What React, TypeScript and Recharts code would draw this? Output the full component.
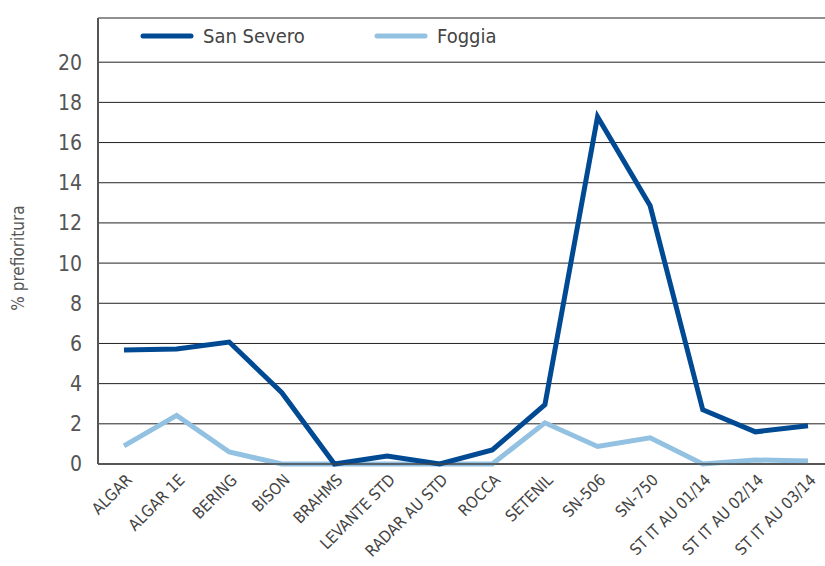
import React from "react";
import { CartesianGrid, Line, LineChart, XAxis, YAxis } from "recharts";

const varieties = [
  "ALGAR",
  "ALGAR 1E",
  "BERING",
  "BISON",
  "BRAHMS",
  "LEVANTE STD",
  "RADAR AU STD",
  "ROCCA",
  "SETENIL",
  "SN-506",
  "SN-750",
  "ST IT AU 01/14",
  "ST IT AU 02/14",
  "ST IT AU 03/14",
];
const sanSevero = [5.67, 5.72, 6.07, 3.55, 0, 0.4, 0, 0.7, 2.95, 17.28, 12.85, 2.7, 1.6, 1.9];
const foggia = [0.9, 2.42, 0.6, 0, 0, 0, 0, 0, 2.05, 0.87, 1.3, 0, 0.2, 0.15];
const yTicks = [0, 2, 4, 6, 8, 10, 12, 14, 16, 18, 20];

const DARK = "#004a93";
const LIGHT = "#92c1e1";
const FONT = "'DejaVu Sans Condensed', 'Liberation Sans Narrow', sans-serif";

const data = varieties.map((name, i) => ({
  name,
  "San Severo": sanSevero[i],
  Foggia: foggia[i],
}));

function XTick(props: any) {
  const { x, y, payload } = props;
  return (
    <g transform={`translate(${x + 9},${y + 9})`}>
      <text transform="rotate(-45)" textAnchor="end" fontSize={16} fill="#444" fontFamily={FONT}>
        {payload.value}
      </text>
    </g>
  );
}

function YLabel() {
  return (
    <text
      transform="translate(24,258) rotate(-90)"
      textAnchor="middle"
      fontSize={17}
      fill="#555"
      fontFamily={FONT}
    >
      % prefioritura
    </text>
  );
}

const legendItems = [
  { label: "San Severo", color: DARK, x: 141 },
  { label: "Foggia", color: LIGHT, x: 375 },
];

export default function App() {
  return (
    <div style={{ position: "absolute", left: 0, top: 0, width: 825, height: 566, background: "#fff" }}>
      <LineChart width={825} height={566} data={data} margin={{ top: 18, right: 0, bottom: 0, left: 0 }}>
        <CartesianGrid vertical={false} stroke="#222" strokeWidth={1} />
        <XAxis
          dataKey="name"
          interval={0}
          height={102}
          padding={{ left: 26, right: 17 }}
          tick={<XTick />}
          tickLine={false}
          axisLine={{ stroke: "#444", strokeWidth: 1.5 }}
        />
        <YAxis
          width={98}
          domain={[0, 22.2]}
          ticks={yTicks}
          tickLine={false}
          tickMargin={10}
          axisLine={{ stroke: "#555", strokeWidth: 2 }}
          tick={{ fontSize: 21, fill: "#555", fontFamily: FONT }}
          label={<YLabel />}
        />
        <Line
          type="linear"
          dataKey="Foggia"
          stroke={LIGHT}
          strokeWidth={5}
          dot={false}
          activeDot={false}
          isAnimationActive={false}
        />
        <Line
          type="linear"
          dataKey="San Severo"
          stroke={DARK}
          strokeWidth={5}
          dot={false}
          activeDot={false}
          isAnimationActive={false}
        />
      </LineChart>
      <svg width={825} height={30} style={{ position: "absolute", left: 0, top: 21 }}>
        {legendItems.map((it) => (
          <g key={it.label}>
            <line
              x1={it.x + 2}
              x2={it.x + 50}
              y1={15}
              y2={15}
              stroke={it.color}
              strokeWidth={5}
              strokeLinecap="round"
            />
            <text x={it.x + 62} y={22} fontSize={20} fill="#444" fontFamily={FONT}>
              {it.label}
            </text>
          </g>
        ))}
      </svg>
    </div>
  );
}
